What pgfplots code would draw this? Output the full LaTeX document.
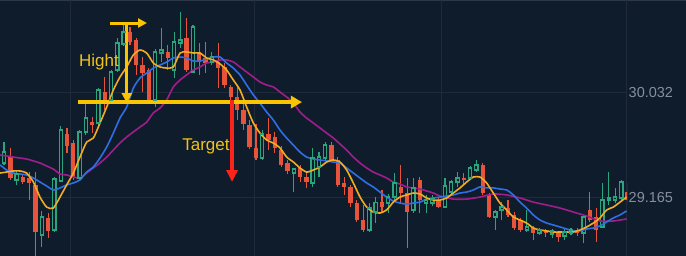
\documentclass[border=0pt]{standalone}
\usepackage{pgfplots}
\pgfplotsset{compat=1.18}
\usepackage{pgfplotstable}
\usepackage{fontspec}
\setmainfont{Liberation Sans}
\usetikzlibrary{arrows.meta}
\definecolor{bgc}{RGB}{15,28,44}
\definecolor{cgrid}{RGB}{31,43,59}
\definecolor{cborder}{RGB}{44,56,72}
\definecolor{clabel}{RGB}{132,142,158}
\definecolor{cgreen}{RGB}{42,165,125}
\definecolor{cred}{RGB}{232,84,58}
\definecolor{cyma}{RGB}{242,172,32}
\definecolor{cbma}{RGB}{48,110,230}
\definecolor{cmma}{RGB}{160,30,140}
\definecolor{cyel}{RGB}{250,196,0}
\definecolor{ctext}{RGB}{242,194,20}
\definecolor{carrow}{RGB}{250,36,26}

% rising candles: x open close high low
\pgfplotstableread{
x o c h l
0 29.446 29.536 29.619 29.430
2 29.306 29.355 29.388 29.265
6 28.852 29.000 29.050 28.752
8 28.893 29.314 29.330 28.876
9 29.297 29.718 29.751 29.289
12 29.322 29.702 29.718 29.306
13 29.702 29.818 29.950 29.677
15 29.776 30.049 30.065 29.760
17 29.966 30.197 30.214 29.949
18 30.214 30.437 30.478 30.197
19 30.429 30.528 30.586 30.412
24 29.966 30.363 30.387 29.908
25 30.354 30.379 30.561 30.280
27 30.214 30.445 30.528 30.148
28 30.437 30.462 30.692 30.396
30 30.197 30.569 30.586 30.189
33 30.280 30.321 30.363 30.255
41 29.487 29.685 29.718 29.471
46 29.363 29.396 29.405 29.206
49 29.281 29.487 29.570 29.248
50 29.413 29.495 29.536 29.330
51 29.487 29.594 29.619 29.471
58 28.893 29.074 29.115 28.876
59 29.041 29.123 29.165 28.950
61 29.115 29.165 29.190 29.033
62 29.165 29.281 29.363 29.140
65 29.058 29.240 29.322 29.033
67 29.115 29.140 29.182 29.033
68 29.115 29.148 29.182 29.090
70 29.082 29.256 29.322 29.074
71 29.206 29.289 29.306 29.182
72 29.289 29.322 29.371 29.248
74 29.322 29.405 29.421 29.306
75 29.388 29.430 29.471 29.371
78 29.000 29.041 29.058 28.893
79 29.058 29.082 29.123 28.975
83 28.893 28.918 29.058 28.876
85 28.868 28.893 28.909 28.852
87 28.860 28.885 28.901 28.827
89 28.843 28.876 28.901 28.810
90 28.868 28.893 28.909 28.852
92 28.868 29.000 29.017 28.785
95 28.918 29.140 29.281 28.909
96 29.140 29.157 29.371 29.099
97 29.140 29.165 29.240 29.115
98 29.157 29.289 29.306 29.140
}\upc

% falling candles: x open close high low
\pgfplotstableread{
x o c h l
1 29.495 29.322 29.570 29.306
3 29.330 29.289 29.347 29.273
4 29.322 29.281 29.371 29.140
5 29.265 28.876 29.371 28.662
7 28.992 28.885 29.033 28.827
10 29.685 29.586 29.735 29.528
11 29.611 29.330 29.636 29.306
14 29.784 29.760 29.826 29.693
16 30.032 29.966 30.156 29.884
20 30.528 30.445 30.569 30.420
21 30.462 30.255 30.478 30.173
22 30.255 30.189 30.321 30.032
23 30.214 29.966 30.230 29.949
26 30.363 30.313 30.420 30.214
29 30.478 30.214 30.643 30.197
31 30.363 30.280 30.437 30.173
32 30.313 30.272 30.445 30.189
34 30.280 30.230 30.437 30.065
35 30.239 30.090 30.272 30.065
36 30.074 29.991 30.090 29.966
37 29.991 29.884 30.074 29.801
38 29.884 29.768 29.933 29.718
39 29.760 29.578 29.801 29.561
40 29.570 29.487 29.768 29.471
42 29.685 29.636 29.817 29.553
43 29.660 29.570 29.702 29.528
44 29.553 29.430 29.586 29.413
45 29.446 29.380 29.471 29.355
47 29.405 29.330 29.430 29.289
48 29.330 29.289 29.371 29.240
52 29.594 29.471 29.619 29.454
53 29.471 29.265 29.495 29.248
54 29.281 29.248 29.330 29.182
55 29.248 29.115 29.265 29.082
56 29.115 28.975 29.140 28.959
57 28.975 28.893 29.099 28.876
60 29.123 29.082 29.223 29.041
63 29.248 29.198 29.430 29.115
64 29.198 29.041 29.322 28.744
66 29.306 29.140 29.330 29.033
69 29.140 29.082 29.157 29.074
73 29.322 29.306 29.363 29.265
76 29.430 29.198 29.446 29.182
77 29.182 29.000 29.198 28.992
80 29.074 29.017 29.140 29.000
81 29.017 28.909 29.041 28.893
82 28.975 28.893 28.992 28.876
84 28.909 28.868 28.926 28.810
86 28.885 28.868 28.901 28.835
88 28.868 28.835 28.885 28.794
91 28.893 28.868 28.909 28.843
93 29.058 28.975 29.206 28.959
94 29.000 28.893 29.074 28.794
99 29.206 29.140 29.281 29.115
}\dnc

% moving averages: x yellow blue
\pgfplotstableread{
x y b
-0.63 29.363 29.430
0.42 29.371 29.388
1.48 29.380 29.363
2.54 29.380 29.355
3.60 29.363 29.347
4.66 29.289 29.322
5.71 29.165 29.289
6.77 29.082 29.256
7.83 29.074 29.223
8.89 29.165 29.240
9.95 29.265 29.265
11.01 29.363 29.281
12.06 29.495 29.306
13.12 29.619 29.371
14.18 29.652 29.413
15.24 29.776 29.487
16.30 29.908 29.578
17.36 30.049 29.693
18.41 30.156 29.817
19.47 30.239 29.908
20.53 30.338 30.065
21.59 30.379 30.148
22.65 30.354 30.189
23.70 30.272 30.230
24.76 30.239 30.255
25.82 30.230 30.280
26.88 30.239 30.313
27.94 30.354 30.321
28.99 30.363 30.313
30.05 30.354 30.288
31.11 30.354 30.288
32.17 30.313 30.305
33.23 30.297 30.321
34.29 30.264 30.321
35.34 30.214 30.272
36.40 30.131 30.230
37.46 30.049 30.173
38.52 29.908 30.090
39.58 29.776 30.008
40.63 29.693 29.941
41.69 29.636 29.867
42.75 29.611 29.801
43.81 29.570 29.718
44.87 29.495 29.652
45.93 29.454 29.594
46.98 29.405 29.536
48.04 29.371 29.495
49.10 29.388 29.479
50.16 29.413 29.471
51.22 29.454 29.463
52.28 29.471 29.454
53.33 29.454 29.446
54.39 29.388 29.405
55.45 29.281 29.363
56.51 29.165 29.322
57.57 29.082 29.281
58.62 29.041 29.248
59.68 29.033 29.206
60.74 29.058 29.165
61.80 29.123 29.132
62.86 29.165 29.115
63.92 29.182 29.107
64.97 29.198 29.115
66.03 29.190 29.123
67.09 29.157 29.148
68.15 29.140 29.157
69.21 29.140 29.165
70.27 29.157 29.173
71.32 29.198 29.182
72.38 29.240 29.198
73.44 29.289 29.206
74.50 29.330 29.223
75.56 29.330 29.248
76.61 29.281 29.240
77.67 29.198 29.240
78.73 29.115 29.231
79.79 29.058 29.223
80.85 29.000 29.182
81.91 28.975 29.123
82.96 28.950 29.074
84.02 28.909 29.017
85.08 28.893 28.975
86.14 28.885 28.950
87.20 28.876 28.934
88.25 28.876 28.918
89.31 28.876 28.901
90.37 28.876 28.885
91.43 28.893 28.885
92.49 28.918 28.901
93.54 28.950 28.909
94.60 28.992 28.926
95.66 29.058 28.959
96.72 29.082 28.992
97.78 29.123 29.017
98.83 29.165 29.050
}\mas

% slow moving average
\pgfplotstableread{
x m
-0.63 29.512
0.42 29.504
1.48 29.495
2.54 29.487
3.60 29.479
4.66 29.463
5.71 29.446
6.77 29.421
7.83 29.396
8.89 29.355
9.95 29.347
11.01 29.330
12.06 29.322
13.12 29.363
14.18 29.405
15.24 29.446
16.30 29.495
17.36 29.553
18.41 29.611
19.47 29.660
20.53 29.702
21.59 29.743
22.65 29.784
23.70 29.859
24.76 29.900
25.82 29.966
26.88 30.074
27.94 30.131
28.99 30.173
30.05 30.214
31.11 30.239
32.17 30.272
33.23 30.280
34.29 30.297
35.34 30.297
36.40 30.280
37.46 30.239
38.52 30.197
39.58 30.156
40.63 30.115
41.69 30.090
42.75 30.074
43.81 30.032
44.87 29.991
45.93 29.941
46.98 29.867
48.04 29.817
49.10 29.776
50.16 29.735
51.22 29.693
52.28 29.652
53.33 29.603
54.39 29.553
55.45 29.495
56.51 29.446
57.57 29.405
58.62 29.371
59.68 29.347
60.74 29.322
61.80 29.289
62.86 29.273
63.92 29.248
64.97 29.240
66.03 29.231
67.09 29.215
68.15 29.198
69.21 29.173
71.32 29.148
73.44 29.148
75.56 29.165
77.67 29.190
79.79 29.182
81.91 29.157
84.02 29.123
86.14 29.099
88.25 29.074
90.37 29.041
92.49 29.008
94.60 28.967
96.72 28.967
98.83 28.984
}\slow

\pgfplotsset{
  candle/.style 2 args={draw=none, mark=none, forget plot,
    error bars/.cd, y dir=plus, y explicit, error mark=none,
    error bar style={line width=#1, draw=#2}},
}

\begin{document}
\begin{tikzpicture}
\useasboundingbox (0,0) rectangle (686pt,256pt);
\fill[bgc] (0,0) rectangle (686pt,256pt);
\draw[cborder, line width=1pt] (0,255.5pt) -- (686pt,255.5pt);
\begin{axis}[
  at={(0,0)}, anchor=south west, scale only axis,
  width=627pt, height=256pt,
  xmin=-0.635, xmax=98.89, ymin=28.678, ymax=30.792,
  axis line style={draw=none}, tick style={draw=none},
  xtick={10.48,39.84,69.37,98.86}, xticklabels={},
  ytick={29.165,30.032}, yticklabels={29.165,30.032},
  yticklabel pos=right,
  yticklabel style={anchor=west, inner sep=0pt, xshift=1.5pt,
    font=\fontsize{14.5}{16}\selectfont, text=clabel},
  grid=major, major grid style={draw=cgrid, line width=1pt},
  clip=true,
]
% wicks
\addplot[candle={1.1pt}{cgreen}]
  table[x=x, y=l, y error plus expr=\thisrow{h}-\thisrow{l}] {\upc};
\addplot[candle={1.1pt}{cred}]
  table[x=x, y=l, y error plus expr=\thisrow{h}-\thisrow{l}] {\dnc};
% falling bodies (filled)
\addplot[candle={4.4pt}{cred}]
  table[x=x, y=c, y error plus expr=\thisrow{o}-\thisrow{c}] {\dnc};
% rising bodies (hollow)
\addplot[candle={4.4pt}{cgreen}]
  table[x=x, y=o, y error plus expr=\thisrow{c}-\thisrow{o}] {\upc};
\addplot[candle={2.0pt}{bgc}]
  table[x=x, y=o, y error plus expr=\thisrow{c}-\thisrow{o}] {\upc};
\addplot[only marks, mark=-, mark size=2.2pt, mark options={draw=cgreen, line width=1.2pt}]
  table[x=x, y=o] {\upc};
\addplot[only marks, mark=-, mark size=2.2pt, mark options={draw=cgreen, line width=1.2pt}]
  table[x=x, y=c] {\upc};
% moving averages
\addplot[cmma, line width=1.6pt, mark=none, smooth, tension=0.4] table[x=x, y=m] {\slow};
\addplot[cbma, line width=1.6pt, mark=none, smooth, tension=0.4] table[x=x, y=b] {\mas};
\addplot[cyma, line width=1.6pt, mark=none, smooth, tension=0.4] table[x=x, y=y] {\mas};
% annotations
\draw[cyel, line width=4pt, -{Triangle[length=11pt,width=12pt]}]
  (axis cs:11.75,29.949) -- (axis cs:47.3,29.949);
\draw[cyel, line width=3pt, -{Triangle[length=10pt,width=10pt]}]
  (axis cs:19.5,30.586) -- (axis cs:19.5,29.941);
\draw[cyel, line width=3pt, -{Triangle[length=9pt,width=9pt]}]
  (axis cs:16.8,30.602) -- (axis cs:22.7,30.602);
\draw[carrow, line width=3.5pt, -{Triangle[length=12pt,width=11pt]}]
  (axis cs:36.2,29.966) -- (axis cs:36.2,29.289);
\node[text=ctext, font=\fontsize{17}{19}\selectfont, inner sep=0pt] at (axis cs:15.08,30.280) {Hight};
\node[text=ctext, font=\fontsize{17}{19}\selectfont, inner sep=0pt] at (axis cs:32.06,29.586) {Target};
\end{axis}
\end{tikzpicture}
\end{document}
